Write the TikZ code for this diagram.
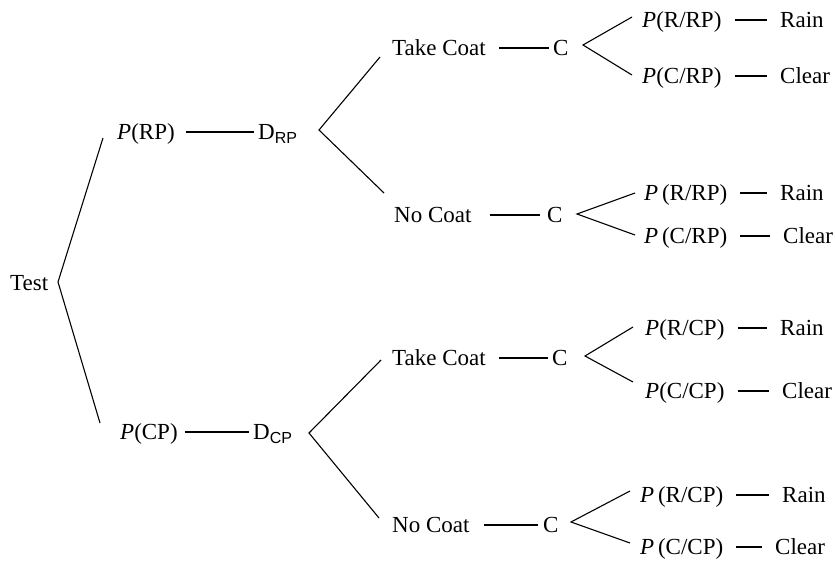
\documentclass[tikz,border=0pt]{standalone}
\usepackage{fontspec}
\setmainfont{Liberation Serif}
\newfontfamily\subfont{Liberation Sans}
\usetikzlibrary{calc}
\newcommand{\Dsub}[1]{D\raisebox{-4pt}{\subfont\fontsize{16}{16}\selectfont #1}}
\newcommand{\Pit}{\textit{P}}
\begin{document}
\begin{tikzpicture}[x=1pt,y=-1pt,
  lbl/.style={anchor=west,inner sep=0pt,text height=15pt,text depth=0pt,font=\fontsize{23}{27}\selectfont},
  ln/.style={line width=1.1pt},
  longdash/.style={ln,shorten <=11pt,shorten >=4pt},
  shortdash/.style={ln,shorten <=13pt,shorten >=13pt}]
\useasboundingbox (0,0) rectangle (836,565);
% main nodes
\node[lbl] (test) at (10,283) {Test};
\node[lbl] (prp) at (117,132) {\Pit(RP)};
\node[lbl] (drp) at (258,132) {\Dsub{RP}};
\node[lbl] (pcp) at (120,432) {\Pit(CP)};
\node[lbl] (dcp) at (253,432) {\Dsub{CP}};
\node[lbl] (tc1) at (392,48) {Take Coat};
\node[lbl] (c1) at (553,48) {C};
\node[lbl] (nc1) at (394,215) {No Coat};
\node[lbl] (c2) at (547,215) {C};
\node[lbl] (tc2) at (392,358) {Take Coat};
\node[lbl] (c3) at (552,358) {C};
\node[lbl] (nc2) at (392,525) {No Coat};
\node[lbl] (c4) at (543,525) {C};
% leaves
\node[lbl] (r1) at (642,20) {\Pit(R/RP)};
\node[lbl] (rain1) at (780,20) {Rain};
\node[lbl] (k1) at (642,76) {\Pit(C/RP)};
\node[lbl] (clear1) at (780,76) {Clear};
\node[lbl] (r2) at (644,193) {\Pit\,(R/RP)};
\node[lbl] (rain2) at (780,193) {Rain};
\node[lbl] (k2) at (644,236) {\Pit\,(C/RP)};
\node[lbl] (clear2) at (783,236) {Clear};
\node[lbl] (r3) at (645,328) {\Pit(R/CP)};
\node[lbl] (rain3) at (780,328) {Rain};
\node[lbl] (k3) at (645,391) {\Pit(C/CP)};
\node[lbl] (clear3) at (782,391) {Clear};
\node[lbl] (r4) at (640,495) {\Pit\,(R/CP)};
\node[lbl] (rain4) at (782,495) {Rain};
\node[lbl] (k4) at (640,547) {\Pit\,(C/CP)};
\node[lbl] (clear4) at (775,547) {Clear};
% horizontal connectors
\draw[longdash] (prp.east) -- (drp.west);
\draw[longdash,shorten <=7pt] (pcp.east) -- (dcp.west);
\draw[longdash,shorten <=13pt] (tc1.east) -- (c1.west);
\draw[longdash,shorten <=18pt,shorten >=7pt] (nc1.east) -- (c2.west);
\draw[longdash,shorten <=13pt] (tc2.east) -- (c3.west);
\draw[longdash,shorten <=14pt,shorten >=5pt] (nc2.east) -- (c4.west);
\foreach \a/\b in {r1/rain1,k1/clear1,r2/rain2,k2/clear2,r3/rain3,k3/clear3,r4/rain4,k4/clear4}
  \draw[shortdash] (\a.east) -- (\b.west);
% fork vertices and ends
\coordinate (v0) at (58,282);
\coordinate (v1) at (319,130);
\coordinate (v2) at (309,433);
\coordinate (v3) at (583,45);
\coordinate (v4) at (577,214);
\coordinate (v5) at (585,356);
\coordinate (v6) at (571,522);
\draw[ln] ($(prp.west)+(-14,6)$) -- (v0) -- ($(pcp.west)+(-20,-9)$);
\draw[ln] ($(tc1.west)+(-12,9)$) -- (v1) -- ($(nc1.west)+(-10,-22)$);
\draw[ln] ($(tc2.west)+(-11,2)$) -- (v2) -- ($(nc2.west)+(-13,-7)$);
\draw[ln] ($(r1.west)+(-10,-3)$) -- (v3) -- ($(k1.west)+(-10,-1)$);
\draw[ln] ($(r2.west)+(-9,0)$) -- (v4) -- ($(k2.west)+(-9,-1)$);
\draw[ln] ($(r3.west)+(-12,-1)$) -- (v5) -- ($(k3.west)+(-12,-9)$);
\draw[ln] ($(r4.west)+(-10,-4)$) -- (v6) -- ($(k4.west)+(-10,-4)$);
\end{tikzpicture}
\end{document}
